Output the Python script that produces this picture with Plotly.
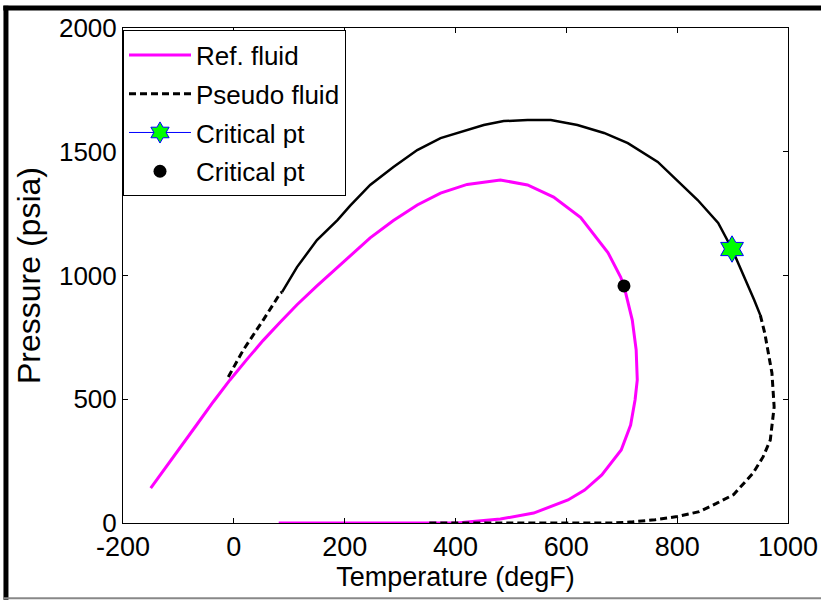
import plotly.graph_objects as go

# Ref. fluid phase envelope (degF, psia)
ref_T = [-150, -110, -66, -37, -7, 24, 53, 84, 114, 150, 187, 210, 246, 288, 331, 373, 421, 481,
         530, 577, 626, 675, 698, 704, 710, 719, 726, 728, 724, 716, 699, 664, 633, 603, 541, 481,
         421, 404, 81]
ref_P = [141, 262, 400, 490, 578, 662, 738, 812, 882, 958, 1033, 1082, 1152, 1222, 1285, 1333, 1368,
         1386, 1366, 1317, 1234, 1093, 994, 958, 900, 820, 700, 578, 497, 396, 295, 194, 133, 93,
         40, 16, 4, 0, 0]

# Pseudo fluid envelope, dashed portions
ps_T = [-10, 17, 53, 84, 87, None, 950, 958, 971, 975, 968, 955, 937, 902, 870, 840, 800, 760,
        720, 686, 346]
ps_P = [590, 699, 820, 929, 933, None, 840, 768, 606, 469, 335, 267, 202, 115, 78, 46, 26, 13,
        5, 0, 0]

# Pseudo fluid envelope, solid portion
sol_T = [87, 114, 150, 187, 210, 228, 246, 288, 331, 373, 409, 451, 487, 530, 572, 620, 668, 711,
         765, 837, 874, 899, 939, 950]
sol_P = [933, 1034, 1143, 1224, 1282, 1322, 1366, 1438, 1507, 1555, 1580, 1608, 1624, 1628, 1628,
         1608, 1576, 1535, 1459, 1305, 1212, 1107, 901, 840]

# Critical points
crit_pseudo_T = [899]
crit_pseudo_P = [1107]
crit_ref_T = [704]
crit_ref_P = [958]

x_ticks = [-200, 0, 200, 400, 600, 800, 1000]
y_ticks = [0, 500, 1000, 1500, 2000]

FONT = "Liberation Sans, Arial, sans-serif"

fig = go.Figure()
fig.add_trace(go.Scatter(x=ref_T, y=ref_P, mode="lines", name="Ref. fluid",
                         line=dict(color="#ff00ff", width=3), legendgroup="a"))
fig.add_trace(go.Scatter(x=ps_T, y=ps_P, mode="lines", name="Pseudo fluid",
                         line=dict(color="black", width=3, dash="7px,4px"), legendgroup="b"))
fig.add_trace(go.Scatter(x=sol_T, y=sol_P, mode="lines", showlegend=False,
                         line=dict(color="black", width=2.5)))
fig.add_trace(go.Scatter(x=crit_pseudo_T, y=crit_pseudo_P, mode="lines+markers", name="Critical pt",
                         line=dict(color="blue", width=1),
                         marker=dict(symbol="hexagram", size=20, color="#00ff00",
                                     line=dict(color="blue", width=1)), legendgroup="c"))
fig.add_trace(go.Scatter(x=crit_ref_T, y=crit_ref_P, mode="markers", name="Critical pt",
                         marker=dict(symbol="circle", size=13, color="black"), legendgroup="d"))

axis_common = dict(showline=True, linecolor="black", linewidth=1, mirror="ticks",
                   ticks="inside", ticklen=5, tickcolor="black", showgrid=False,
                   zeroline=False, automargin=False)

fig.update_layout(
    width=821, height=602,
    margin=dict(l=123, r=33, t=28, b=79),
    paper_bgcolor="white", plot_bgcolor="white",
    font=dict(family=FONT, color="black"),
    xaxis=dict(range=[-200, 1000], tickvals=x_ticks, ticktext=[str(v) for v in x_ticks],
               tickfont=dict(size=27, family=FONT),
               title=dict(text="Temperature (degF)", font=dict(size=27), standoff=1),
               **axis_common),
    yaxis=dict(range=[0, 2000], tickvals=y_ticks, ticktext=[str(v) for v in y_ticks],
               tickfont=dict(size=26, family=FONT),
               title=dict(text="Pressure (psia)", font=dict(size=32), standoff=8),
               **axis_common),
    legend=dict(x=0.0, y=0.995, xanchor="left", yanchor="top", bgcolor="white",
                bordercolor="black", borderwidth=1, font=dict(size=26, family=FONT),
                tracegroupgap=2, itemwidth=62),
    showlegend=True,
)

# outer figure frame
fig.add_shape(type="line", xref="paper", yref="paper", x0=-0.176, x1=-0.176, y0=-0.155, y1=1.045,
              line=dict(color="black", width=5))
fig.add_shape(type="line", xref="paper", yref="paper", x0=-0.18, x1=1.06, y0=1.0404, y1=1.0404,
              line=dict(color="black", width=5))
fig.add_shape(type="line", xref="paper", yref="paper", x0=-0.18, x1=1.06, y0=-0.152, y1=-0.152,
              line=dict(color="#888888", width=2))

fig.write_html("out.html")
